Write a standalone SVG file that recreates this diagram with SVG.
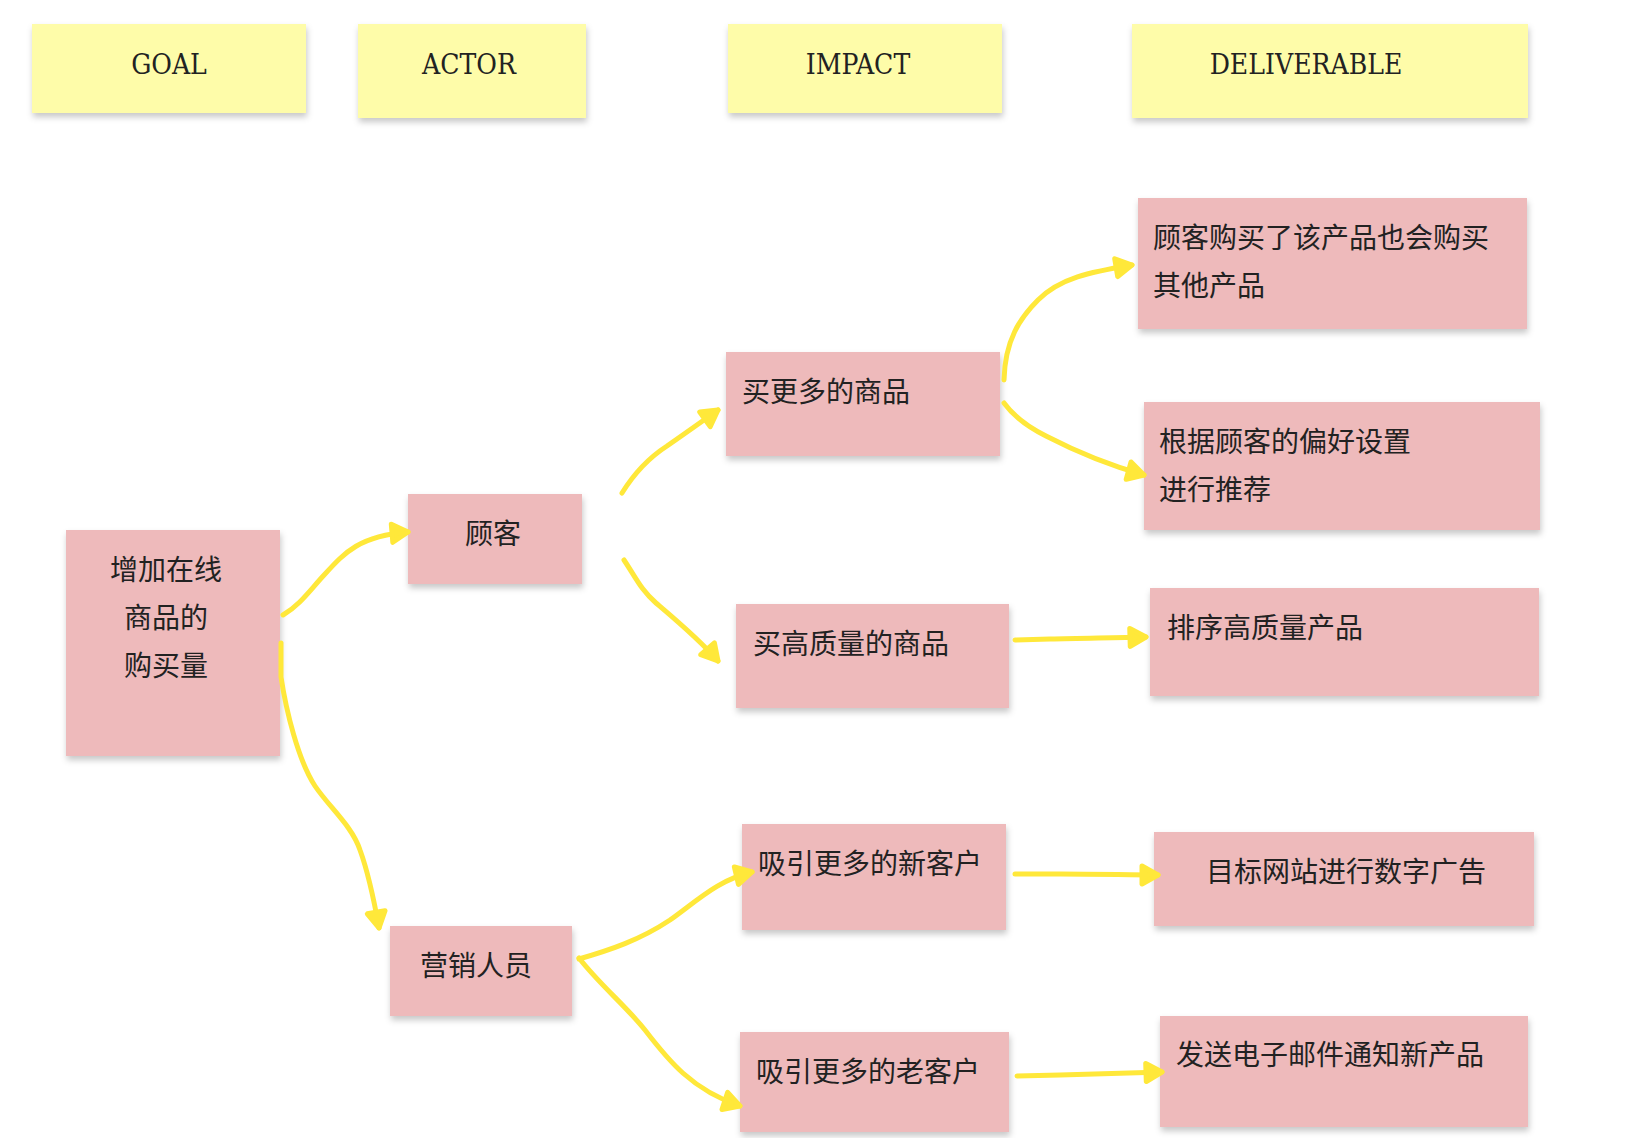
<svg xmlns="http://www.w3.org/2000/svg" width="1642" height="1138" viewBox="0 0 1642 1138">
<defs>
<filter id="sh" x="-10%" y="-10%" width="130%" height="140%">
<feDropShadow dx="1" dy="4" stdDeviation="3" flood-color="#000" flood-opacity="0.22"/>
</filter>
<marker id="ah" viewBox="-24 -16 30 32" markerWidth="30" markerHeight="32" refX="0" refY="0" orient="auto" markerUnits="userSpaceOnUse">
<path d="M-16,-9 L0,0 L-16,9 Z" fill="#FFE83A" stroke="#FFE83A" stroke-width="5" stroke-linecap="round" stroke-linejoin="round"/>
</marker>
</defs>
<style>
.y{fill:#FEFCA9;filter:url(#sh)}
.p{fill:#EEBABB;filter:url(#sh)}
.h{font-family:"DejaVu Serif",serif;font-stretch:condensed;font-size:28px;fill:#222;text-anchor:middle}
.t{font-family:"Noto Sans CJK SC","Noto Sans",sans-serif;font-size:28px;fill:#222}
.c{text-anchor:middle}
.e{fill:none;stroke:#FFE83A;stroke-width:5;stroke-linecap:round;stroke-linejoin:round;marker-end:url(#ah)}
</style>
<rect width="1642" height="1138" fill="#ffffff"/>
<g id="hdr-goal"><rect class="y" x="32" y="24" width="274" height="89"/><text class="h" x="169" y="74">GOAL</text></g>
<g id="hdr-actor"><rect class="y" x="358" y="24" width="228" height="94"/><text class="h" x="469" y="74">ACTOR</text></g>
<g id="hdr-impact"><rect class="y" x="728" y="24" width="274" height="89"/><text class="h" x="858" y="74">IMPACT</text></g>
<g id="hdr-deliverable"><rect class="y" x="1132" y="24" width="396" height="94"/><text class="h" x="1306" y="74">DELIVERABLE</text></g>

<g id="goal"><rect class="p" x="66" y="530" width="214" height="226"/>
<text class="t c" x="166" y="580">增加在线</text><text class="t c" x="166" y="628">商品的</text><text class="t c" x="166" y="676">购买量</text></g>
<g id="actor-customer"><rect class="p" x="408" y="494" width="174" height="90"/><text class="t c" x="493" y="544">顾客</text></g>
<g id="actor-marketer"><rect class="p" x="390" y="926" width="182" height="90"/><text class="t c" x="476" y="976">营销人员</text></g>
<g id="impact-more"><rect class="p" x="726" y="352" width="274" height="104"/><text class="t" x="742" y="402">买更多的商品</text></g>
<g id="impact-quality"><rect class="p" x="736" y="604" width="273" height="104"/><text class="t" x="753" y="654">买高质量的商品</text></g>
<g id="impact-new"><rect class="p" x="742" y="824" width="264" height="106"/><text class="t" x="758" y="874">吸引更多的新客户</text></g>
<g id="impact-old"><rect class="p" x="740" y="1032" width="269" height="100"/><text class="t" x="756" y="1082">吸引更多的老客户</text></g>
<g id="del-also"><rect class="p" x="1138" y="198" width="389" height="131"/><text class="t" x="1153" y="248">顾客购买了该产品也会购买</text><text class="t" x="1153" y="296">其他产品</text></g>
<g id="del-pref"><rect class="p" x="1144" y="402" width="396" height="128"/><text class="t" x="1159" y="452">根据顾客的偏好设置</text><text class="t" x="1159" y="500">进行推荐</text></g>
<g id="del-sort"><rect class="p" x="1150" y="588" width="389" height="108"/><text class="t" x="1167" y="638">排序高质量产品</text></g>
<g id="del-ads"><rect class="p" x="1154" y="832" width="380" height="94"/><text class="t c" x="1346" y="882">目标网站进行数字广告</text></g>
<g id="del-email"><rect class="p" x="1160" y="1016" width="368" height="111"/><text class="t" x="1176" y="1065">发送电子邮件通知新产品</text></g>

<g id="connectors">
<path class="e" d="M283,615 C300,605 310,590 325,574 C345,552 360,536 408,532"/>
<path class="e" d="M281,643 L281,677 C286,710 298,760 315,786 C330,808 352,826 360,850 C368,872 374,900 379,928"/>
<path class="e" d="M622,493 C635,472 650,457 667,446 C690,430 704,420 718,410"/>
<path class="e" d="M624,560 C636,578 641,590 656,603 C676,620 700,640 718,661"/>
<path class="e" d="M1004,380 C1005,340 1020,318 1038,300 C1060,278 1090,272 1132,265"/>
<path class="e" d="M1004,403 C1015,418 1030,428 1046,436 C1075,451 1105,464 1144,475"/>
<path class="e" d="M1015,640 L1050,639 C1080,638 1110,638 1146,637"/>
<path class="e" d="M579,959 C610,950 640,940 670,920 C698,900 718,880 752,872"/>
<path class="e" d="M579,958 C600,985 625,1005 645,1030 C668,1060 692,1090 740,1106"/>
<path class="e" d="M1015,874 L1060,874 C1100,874 1130,875 1158,875"/>
<path class="e" d="M1017,1076 L1060,1075 C1100,1074 1130,1073 1162,1072"/>
</g>
</svg>
